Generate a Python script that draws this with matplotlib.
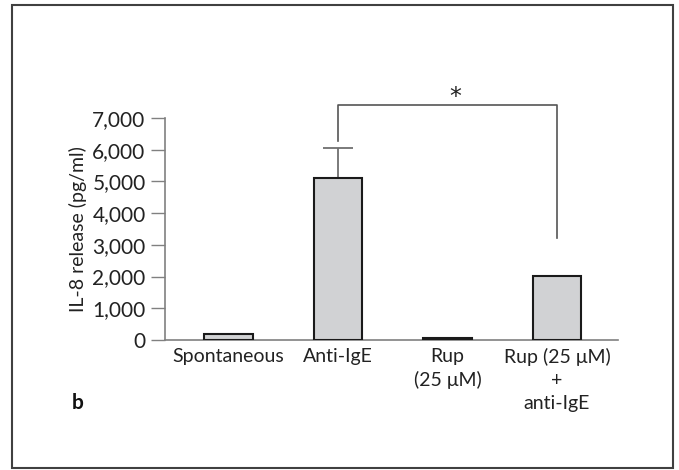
import matplotlib
matplotlib.use("Agg")
import matplotlib.pyplot as plt
import numpy as np

plt.rcParams['font.family'] = ['Lato', 'DejaVu Sans']

categories = ["Spontaneous", "Anti-IgE", "Rup\n(25 μM)", "Rup (25 μM)\n+\nanti-IgE"]
values = [200, 5100, 70, 2020]
errors_up = [0, 950, 0, 0]
yticks = [0, 1000, 2000, 3000, 4000, 5000, 6000, 7000]
ytick_labels = ["0", "1,000", "2,000", "3,000", "4,000", "5,000", "6,000", "7,000"]
bracket_pair = (1, 3)
bracket_top = 7410
bracket_left_bottom = 6280
bracket_right_bottom = 3220
sig_label = "*"
ylabel = "IL-8 release (pg/ml)"
panel_label = "b"

W, H = 679, 470
fig = plt.figure(figsize=(W/100, H/100), dpi=100)
ax = fig.add_axes([165/W, 1-340/H, (618-165)/W, (340-118)/H])

x = np.arange(len(categories))
ax.bar(x, values, width=0.447, color="#d1d2d4", edgecolor="#1a1a1a", linewidth=1.5, zorder=3)
for xi, v, e in zip(x, values, errors_up):
    if e > 0:
        ax.errorbar(xi, v, yerr=[[0], [e]], fmt="none", ecolor="#707070",
                    elinewidth=1.3, capsize=11, capthick=1.3, zorder=2)

ax.set_xlim(-0.58, 3.557)
ax.set_ylim(0, 7000)
ax.set_yticks(yticks)
ax.set_yticklabels(ytick_labels, fontsize=15, color="#222222")
ax.set_xticks(x)
ax.set_xticklabels(categories, fontsize=14, color="#222222", linespacing=1.4, va="top")
ax.tick_params(axis="x", length=0, pad=6)
ax.tick_params(axis="y", length=10, width=1.0, color="#808080", pad=4)
for s in ["top", "right"]:
    ax.spines[s].set_visible(False)
for s in ["left", "bottom"]:
    ax.spines[s].set_color("#808080")
    ax.spines[s].set_linewidth(1.2)
ax.set_ylabel(ylabel, fontsize=14, color="#222222", labelpad=4)

# significance bracket
l, r = bracket_pair
ax.plot([l, l, r, r], [bracket_left_bottom, bracket_top, bracket_top, bracket_right_bottom],
        color="#555555", linewidth=1.2, clip_on=False, zorder=4)
ax.text((l + r) / 2 + 0.07, bracket_top + 250, sig_label, ha="center", va="center",
        fontsize=17, color="#222222", clip_on=False, family="DejaVu Sans")

fig.text(78/W, 1-403/H, panel_label, fontsize=15, fontweight="bold", ha="center", va="center",
         color="#111111")

# outer frame
frame = plt.Rectangle((12/W, 1-468/H), (673-12)/W, (468-5)/H, transform=fig.transFigure,
                      fill=False, edgecolor="#404040", linewidth=1.5)
fig.add_artist(frame)

fig.savefig("out.png", dpi=100, facecolor="white")
